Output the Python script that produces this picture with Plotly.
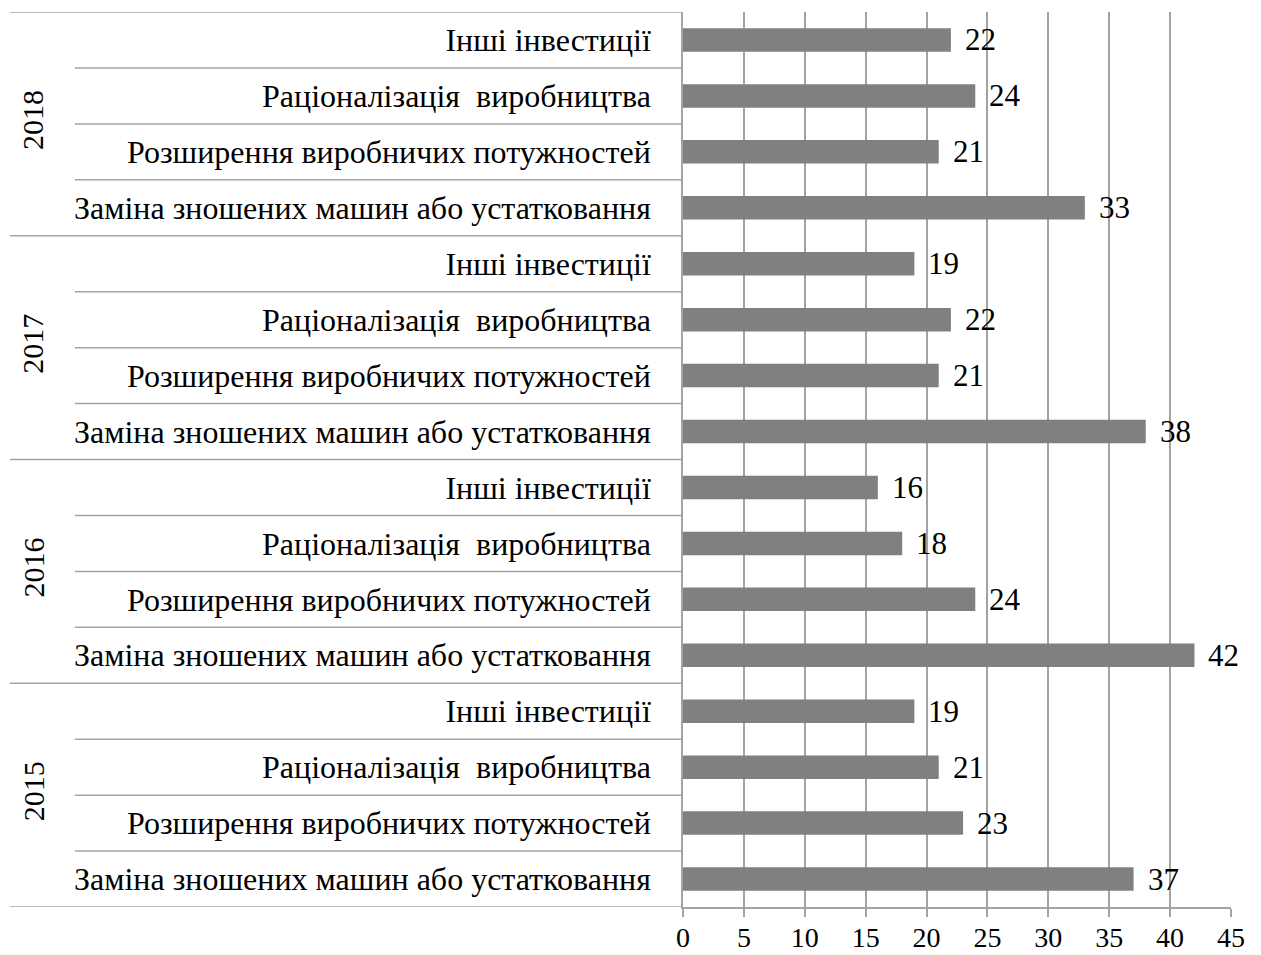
import plotly.graph_objects as go

# Survey data: share of investment purposes by year (%)
years = ["2015", "2016", "2017", "2018"]
purposes = [
    "Заміна зношених машин або устатковання",
    "Розширення виробничих потужностей",
    "Раціоналізація  виробництва",
    "Інші інвестиції",
]
values_2015 = [37, 23, 21, 19]
values_2016 = [42, 24, 18, 16]
values_2017 = [38, 21, 22, 19]
values_2018 = [33, 21, 24, 22]
x_ticks = [0, 5, 10, 15, 20, 25, 30, 35, 40, 45]

by_year = [values_2015, values_2016, values_2017, values_2018]

# Flatten into rows, bottom to top
row_pos, row_val, row_text = [], [], []
for gi, vals in enumerate(by_year):
    for ci, v in enumerate(vals):
        row_pos.append(gi * len(purposes) + ci)
        row_val.append(v)
        row_text.append(purposes[ci])

FONT = "Liberation Serif, Times New Roman, serif"
LINE = "#a3a3a3"
fs_cat = 32
fs_val = 31
fs_year = 30
fs_tick = 28

fig = go.Figure(
    go.Bar(
        x=row_val,
        y=row_pos,
        orientation="h",
        marker=dict(color="#808080", line=dict(width=0)),
        width=0.42,
        hoverinfo="x",
    )
)

# Value labels to the right of each bar
for p, v in zip(row_pos, row_val):
    fig.add_annotation(
        x=v, y=p, xref="x", yref="y", text=str(v), showarrow=False,
        xanchor="left", xshift=12, yshift=0,
        font=dict(family=FONT, size=fs_val, color="black"),
    )

n_rows = len(row_pos)
plot_left_px, plot_right_px = 683, 1231
plot_w = plot_right_px - plot_left_px
outer_x = (10 - plot_left_px) / plot_w
inner_x = (75 - plot_left_px) / plot_w

# Category separators
for k in range(n_rows + 1):
    y = k - 0.5
    x0 = outer_x if k % len(purposes) == 0 else inner_x
    fig.add_shape(
        type="line", xref="paper", yref="y", x0=x0, x1=0, y0=y, y1=y,
        line=dict(color=LINE, width=1.5), layer="below",
    )

# Year labels, rotated
for gi, yr in enumerate(years):
    mid = gi * len(purposes) + (len(purposes) - 1) / 2
    fig.add_annotation(
        x=(33 - plot_left_px) / plot_w, y=mid, xref="paper", yref="y",
        xanchor="center", yanchor="middle",
        text=yr, textangle=-90, showarrow=False, yshift=4,
        font=dict(family=FONT, size=fs_year, color="black"),
    )

fig.update_layout(
    width=1261, height=955,
    margin=dict(l=plot_left_px, r=1261 - plot_right_px, t=12, b=48),
    plot_bgcolor="white", paper_bgcolor="white",
    showlegend=False,
    font=dict(family=FONT, size=fs_cat, color="black"),
)
fig.update_xaxes(
    range=[0, 45], tickvals=x_ticks, showgrid=True, gridcolor=LINE, gridwidth=1.5,
    showline=True, linecolor=LINE, linewidth=1.5,
    ticks="outside", ticklen=8, tickcolor=LINE, tickwidth=1.5,
    zeroline=False, automargin=False, ticklabelstandoff=-3,
    tickfont=dict(family=FONT, size=fs_tick, color="black"),
)
fig.update_yaxes(
    range=[-0.5, n_rows - 0.5], tickvals=row_pos, ticktext=row_text,
    showgrid=False, showline=True, linecolor=LINE, linewidth=1.5,
    zeroline=False, ticks="", ticklabelstandoff=24, automargin=False,
    tickfont=dict(family=FONT, size=fs_cat, color="black"),
)

fig.write_html("out.html")
